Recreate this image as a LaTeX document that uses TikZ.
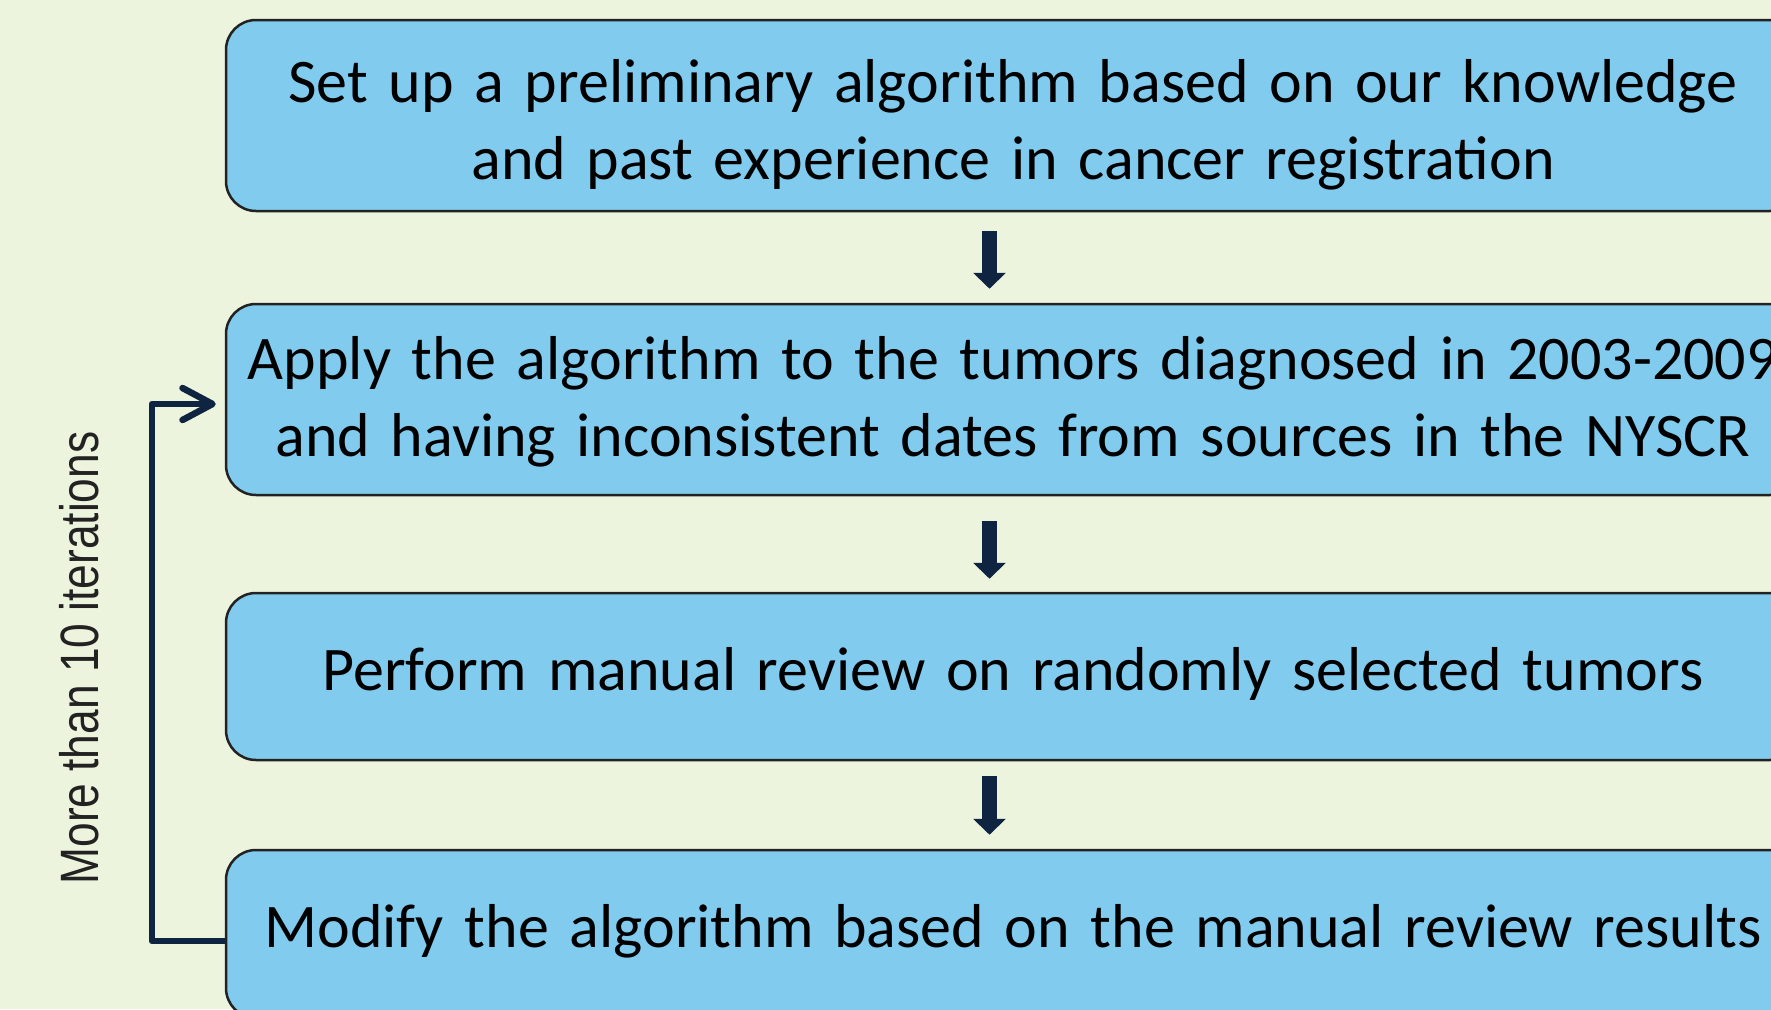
\documentclass[tikz,border=0pt]{standalone}
\usepackage{fontspec}
\setmainfont{Carlito}[WordSpace=0.85]
\newfontfamily\narrowfont[FakeStretch=0.82]{Liberation Sans}
\usetikzlibrary{arrows.meta}
\definecolor{bgcol}{HTML}{EDF4DE}
\definecolor{boxcol}{HTML}{80CBEE}
\definecolor{navy}{HTML}{0E2440}
\definecolor{edgecol}{HTML}{222222}
\tikzset{
  stepbox/.style={draw=edgecol, line width=2.5pt, fill=boxcol, rounded corners=30pt,
    minimum width=1574pt, inner sep=0pt},
  steptext/.style={text width=1560pt, align=center, inner sep=0pt,
    font=\fontsize{62}{77}\selectfont},
  downarrow/.style={draw=navy, line width=15pt, -{Triangle[width=32pt,length=16pt]}},
  looparrow/.style={draw=navy, line width=6.5pt, line join=round,
    -{Straight Barb[length=30pt,width=32pt,round]}},
  sidelabel/.style={rotate=90, text=edgecol, font=\narrowfont\fontsize{54}{60}\selectfont}
}
\begin{document}
\begin{tikzpicture}[x=1pt,y=-1pt]
\useasboundingbox (0,0) rectangle (1771,1009);
\fill[bgcol] (0,0) rectangle (1771,1009);
\begin{scope}
\clip (0,0) rectangle (1771,1009);
\node[stepbox, minimum height=191pt] (b1) at (1013,115.5) {};
\node[stepbox, minimum height=191pt] (b2) at (1013,399.5) {};
\node[stepbox, minimum height=167pt] (b3) at (1013,676.5) {};
\node[stepbox, minimum height=168pt] (b4) at (1013,934) {};
\node[steptext] (t1) at (1013,124.5)
  {Set up a preliminary algorithm based on our knowledge\\and past experience in cancer registration};
\node[steptext] (t2) at (1013,401.5)
  {Apply the algorithm to the tumors diagnosed in 2003-2009\\and having inconsistent dates from sources in the NYSCR};
\node[steptext] (t3) at (1013,673.5)
  {Perform manual review on randomly selected tumors};
\node[steptext] (t4) at (1013,931)
  {Modify the algorithm based on the manual review results};
\end{scope}
\draw[downarrow, shorten <=19pt, shorten >=14pt] (b1.south -| 989.5,0) -- (b2.north -| 989.5,0);
\draw[downarrow, shorten <=25pt, shorten >=13pt] (b2.south -| 989.5,0) -- (b3.north -| 989.5,0);
\draw[downarrow, shorten <=15pt, shorten >=14pt] (b3.south -| 989.5,0) -- (b4.north -| 989.5,0);
\draw[looparrow, shorten >=9pt] ([yshift=-7pt]b4.west) -- ++(-73,0) |- ([yshift=-4.5pt]b2.west);
\node[sidelabel] (lbl) at (79,658) {More than 10 iterations};
\end{tikzpicture}
\end{document}
